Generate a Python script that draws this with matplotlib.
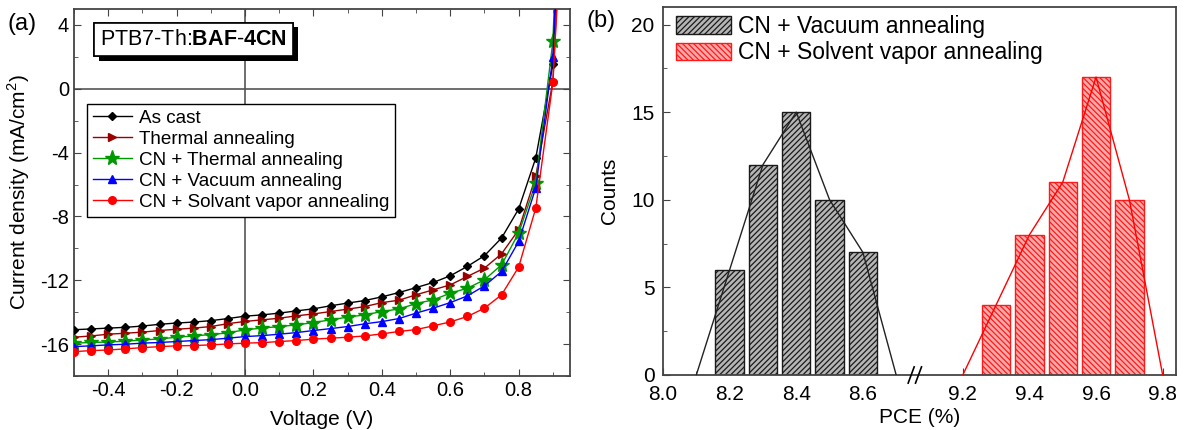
import numpy as np
import matplotlib
matplotlib.use("Agg")
import matplotlib.pyplot as plt
import matplotlib.patheffects as pe
from matplotlib.ticker import MultipleLocator, FixedLocator, FormatStrFormatter
from matplotlib.transforms import blended_transform_factory

plt.rcParams["font.family"] = ["Liberation Sans", "DejaVu Sans"]
plt.rcParams["mathtext.fontset"] = "custom"
plt.rcParams["mathtext.rm"] = "Liberation Sans"
plt.rcParams["mathtext.bf"] = "Liberation Sans:bold"
plt.rcParams["axes.unicode_minus"] = False
plt.rcParams["hatch.linewidth"] = 0.9

# (a) J-V curves (mA/cm2)
voltage = [-0.5, -0.45, -0.4, -0.35, -0.3, -0.25, -0.2, -0.15, -0.1, -0.05,
           0.0, 0.05, 0.1, 0.15, 0.2, 0.25, 0.3, 0.35, 0.4, 0.45,
           0.5, 0.55, 0.6, 0.65, 0.7, 0.75, 0.8, 0.85, 0.9, 0.95]
j_as_cast = [-15.1, -15.05, -15.0, -14.95, -14.87, -14.76, -14.68, -14.62, -14.53, -14.4,
             -14.25, -14.17, -14.06, -13.92, -13.79, -13.6, -13.43, -13.27, -13.04, -12.77,
             -12.46, -12.14, -11.72, -11.13, -10.46, -9.35, -7.53, -4.33, 1.53, 26.0]
j_thermal = [-15.57, -15.49, -15.38, -15.32, -15.25, -15.15, -15.07, -15.0, -14.9, -14.72,
             -14.58, -14.48, -14.38, -14.23, -14.11, -13.96, -13.81, -13.65, -13.4, -13.25,
             -12.91, -12.6, -12.29, -11.76, -11.24, -10.34, -8.83, -5.48, 0.48, 22.0]
j_cn_thermal = [-15.94, -15.9, -15.87, -15.82, -15.74, -15.68, -15.57, -15.49, -15.4, -15.3,
                -15.1, -15.0, -14.9, -14.8, -14.65, -14.48, -14.31, -14.17, -13.96, -13.8,
                -13.46, -13.23, -12.81, -12.5, -11.97, -11.03, -9.04, -5.9, 2.99, 30.0]
j_cn_vacuum = [-16.16, -16.11, -16.05, -16.01, -15.94, -15.9, -15.84, -15.78, -15.72, -15.63,
               -15.53, -15.47, -15.38, -15.28, -15.15, -15.03, -14.9, -14.73, -14.59, -14.4,
               -14.06, -13.75, -13.4, -12.98, -12.35, -11.45, -9.57, -6.2, 2.0, 28.0]
j_cn_sva = [-16.47, -16.41, -16.37, -16.3, -16.22, -16.16, -16.11, -16.09, -16.05, -15.99,
            -15.94, -15.91, -15.84, -15.78, -15.69, -15.63, -15.57, -15.49, -15.36, -15.21,
            -15.09, -14.86, -14.61, -14.27, -13.75, -12.91, -11.17, -7.47, 0.41, 20.0]

jv_labels = ["As cast", "Thermal annealing", "CN + Thermal annealing",
             "CN + Vacuum annealing", "CN + Solvant vapor annealing"]

# (b) PCE histograms
pce_vac = [8.2, 8.3, 8.4, 8.5, 8.6]
counts_vac = [6, 12, 15, 10, 7]
pce_sva = [9.3, 9.4, 9.5, 9.6, 9.7]
counts_sva = [4, 8, 11, 17, 10]
poly_x_vac = [8.1, 8.2, 8.3, 8.4, 8.5, 8.6, 8.7]
poly_y_vac = [0, 6, 12, 15, 10, 7, 0]
poly_x_sva = [9.2, 9.3, 9.4, 9.5, 9.6, 9.7, 9.8]
poly_y_sva = [0, 4, 8, 11, 17, 10, 0]
hist_labels = ["CN + Vacuum annealing", "CN + Solvent vapor annealing"]

# broken x axis for (b)
BREAK_LO, BREAK_HI = 8.78, 9.08
GAP = BREAK_HI - BREAK_LO


def fwd(x):
    x = np.asarray(x, dtype=float)
    return np.where(x <= BREAK_LO, x, np.where(x >= BREAK_HI, x - GAP, BREAK_LO))


def inv(y):
    y = np.asarray(y, dtype=float)
    return np.where(y <= BREAK_LO, y, y + GAP)


def style_spines(ax):
    for s in ax.spines.values():
        s.set_color("#444444")
        s.set_linewidth(1.3)


fig = plt.figure(figsize=(11.88, 4.3), dpi=100)

# ---------------- (a) ----------------
ax1 = fig.add_axes([74 / 1188, 54 / 430, 496 / 1188, 367 / 430])
ax1.axhline(0, color="#555555", lw=1.2, zorder=1)
ax1.axvline(0, color="#555555", lw=1.2, zorder=1)

series = [j_as_cast, j_thermal, j_cn_thermal, j_cn_vacuum, j_cn_sva]
colors = ["#000000", "#990000", "#009900", "#0000ff", "#ff0000"]
markers = ["D", ">", "*", "^", "o"]
msizes = [4.5, 5.5, 11, 6, 5.5]
for j, c, m, ms, lab in zip(series, colors, markers, msizes, jv_labels):
    ax1.plot(voltage, j, color=c, lw=1.0, marker=m, ms=ms, mec=c, mfc=c, label=lab, zorder=3)

ax1.set_xlim(-0.5, 0.95)
ax1.set_ylim(-18, 5)
ax1.xaxis.set_major_locator(MultipleLocator(0.2))
ax1.xaxis.set_minor_locator(MultipleLocator(0.1))
ax1.xaxis.set_major_formatter(FormatStrFormatter("%.1f"))
ax1.yaxis.set_major_locator(MultipleLocator(4))
ax1.yaxis.set_minor_locator(MultipleLocator(2))
ax1.tick_params(which="both", direction="in", top=True, right=True, labelsize=14.5, color="#444444")
ax1.tick_params(which="major", length=5)
ax1.tick_params(which="minor", length=3)
style_spines(ax1)
ax1.set_xlabel("Voltage (V)", fontsize=15, labelpad=7)
ax1.set_ylabel("Current density (mA/cm$^2$)", fontsize=15)
ax1.yaxis.set_label_coords(-0.085, 0.5)

leg1 = ax1.legend(loc="upper left", bbox_to_anchor=(0.026, 0.741), borderaxespad=0,
                  fontsize=13.6, frameon=True, fancybox=False, framealpha=1,
                  edgecolor="black", handlelength=2.1, handletextpad=0.35,
                  labelspacing=0.2, borderpad=0.3)
leg1.get_frame().set_linewidth(1.0)

t = ax1.text(0.241, 0.917, r"PTB7-Th:$\mathbf{BAF}$-$\mathbf{4CN}$", transform=ax1.transAxes,
             ha="center", va="center", fontsize=15.5,
             bbox=dict(boxstyle="square,pad=0.3", fc="white", ec="black", lw=1.2))
t.get_bbox_patch().set_path_effects([
    pe.withSimplePatchShadow(offset=(3.5, -3.5), shadow_rgbFace="black", alpha=1.0),
    pe.Normal()])

# ---------------- (b) ----------------
ax2 = fig.add_axes([663 / 1188, 55 / 430, 513 / 1188, 368 / 430])
ax2.set_xscale("function", functions=(fwd, inv))

ax2.bar(pce_vac, counts_vac, width=0.085, facecolor="#b5b5b5", edgecolor="#1a1a1a",
        hatch="//////", lw=1.0, label=hist_labels[0], zorder=2)
ax2.bar(pce_sva, counts_sva, width=0.085, facecolor="#ffaaaa", edgecolor="#ff1a1a",
        hatch="\\\\\\\\\\\\", lw=1.0, label=hist_labels[1], zorder=2)
ax2.plot(poly_x_vac, poly_y_vac, color="#222222", lw=1.0, zorder=3)
ax2.plot(poly_x_sva, poly_y_sva, color="#ff0000", lw=1.0, zorder=3)

ax2.set_xlim(8.0, 9.84)
ax2.set_ylim(0, 21)
ax2.xaxis.set_major_locator(FixedLocator([8.0, 8.2, 8.4, 8.6, 9.2, 9.4, 9.6, 9.8]))
ax2.xaxis.set_minor_locator(FixedLocator([8.1, 8.3, 8.5, 9.3, 9.5, 9.7]))
ax2.xaxis.set_major_formatter(FormatStrFormatter("%.1f"))
ax2.yaxis.set_major_locator(MultipleLocator(5))
ax2.yaxis.set_minor_locator(MultipleLocator(2.5))
ax2.tick_params(which="both", direction="in", top=False, right=False, labelsize=15, color="#444444")
ax2.tick_params(axis="x", which="major", pad=7)
ax2.tick_params(axis="y", which="major", pad=6)
ax2.tick_params(which="major", length=5)
ax2.tick_params(which="minor", length=3)
style_spines(ax2)
ax2.set_xlabel("PCE (%)", fontsize=15, labelpad=3)
ax2.set_ylabel("Counts", fontsize=15)
ax2.yaxis.set_label_coords(-0.085, 0.5)

# break marks "//" on the x axis
bt = blended_transform_factory(ax2.transData, ax2.transAxes)
for xc in (8.745, 8.767):
    ax2.plot([xc - 0.009, xc + 0.009], [-0.022, 0.022],
             transform=bt, color="black", lw=1.2, clip_on=False, zorder=5)

ax2.legend(loc="upper left", bbox_to_anchor=(0.01, 1.0), borderaxespad=0,
           fontsize=16.5, frameon=False, handlelength=2.4, handleheight=0.8,
           handletextpad=0.3, labelspacing=0.15, borderpad=0.35)

fig.text(22 / 1188, 1 - 24 / 430, "(a)", ha="center", va="center", fontsize=17)
fig.text(601 / 1188, 1 - 21 / 430, "(b)", ha="center", va="center", fontsize=17)

fig.savefig("out.png", dpi=100)
